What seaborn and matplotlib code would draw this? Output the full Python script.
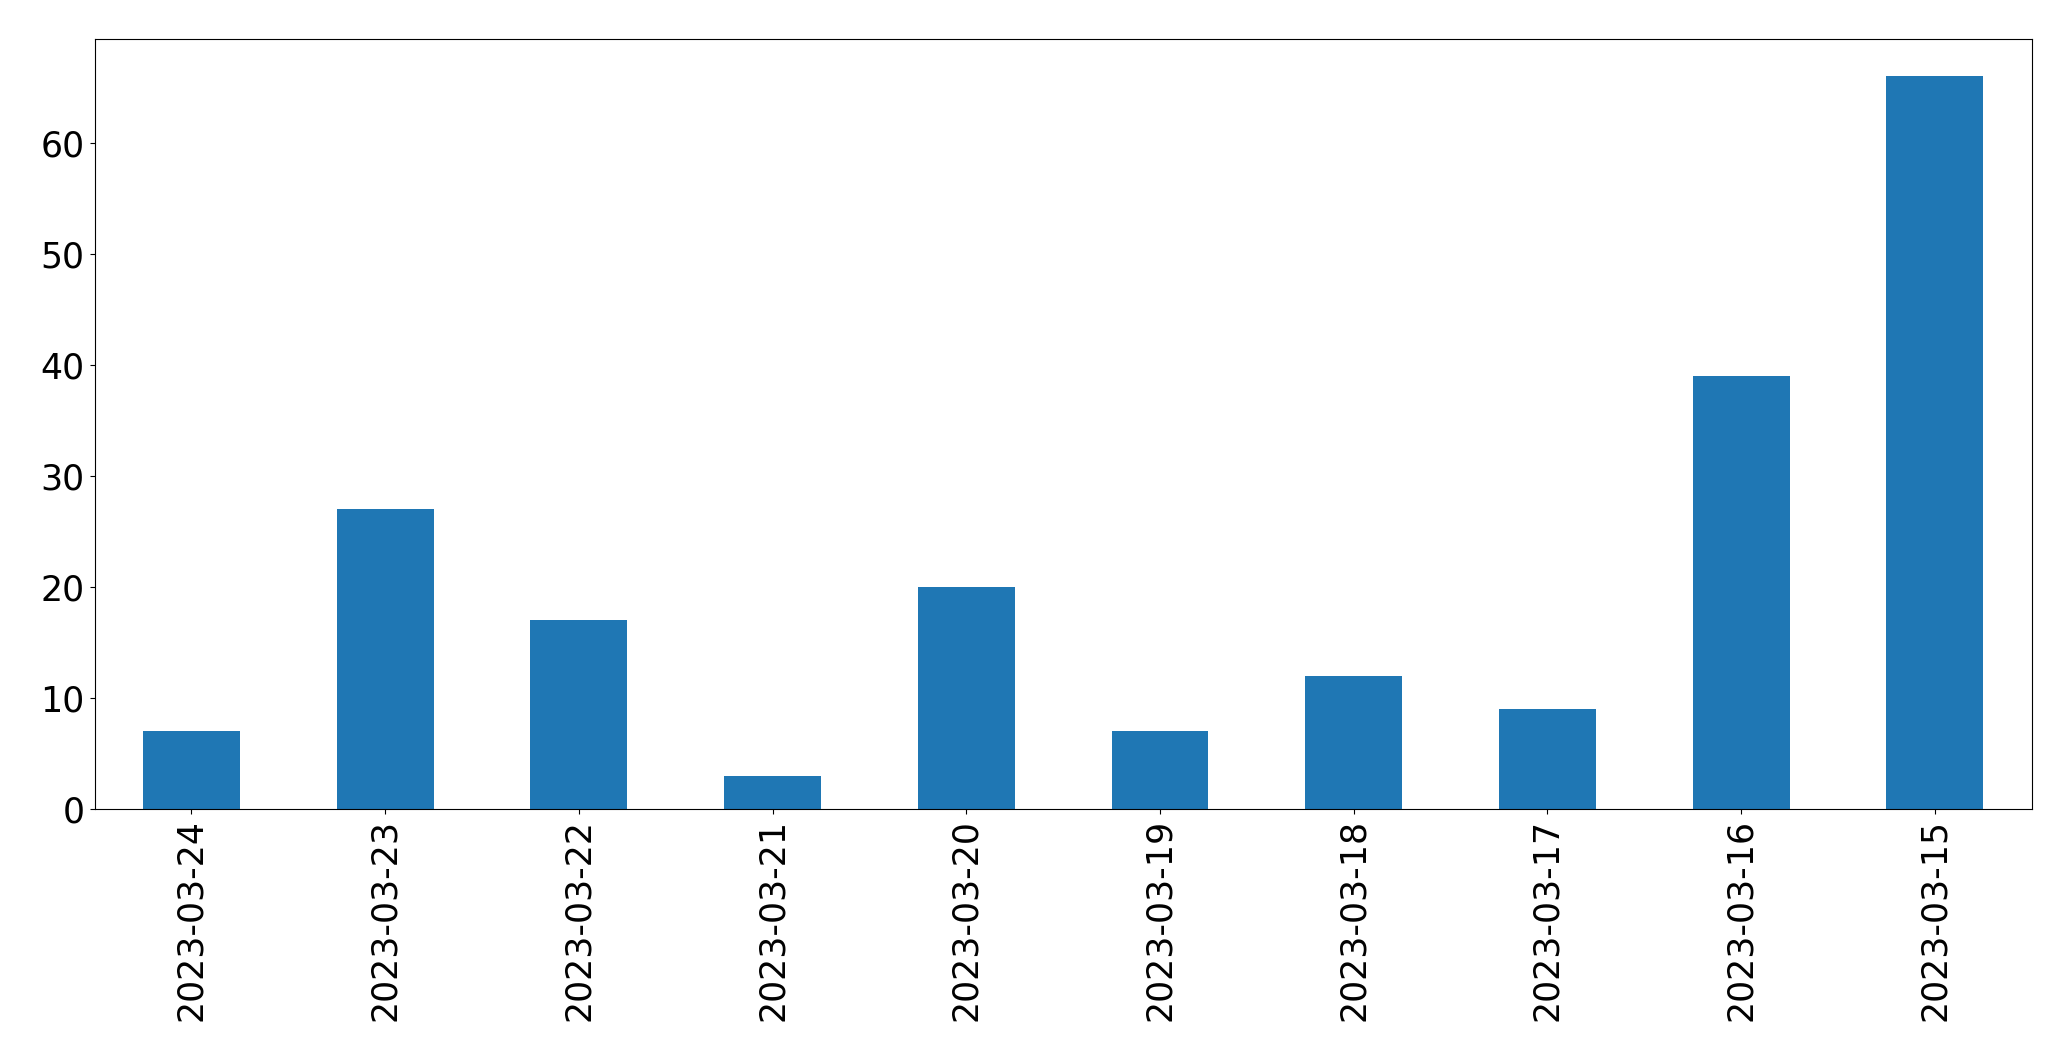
import matplotlib
matplotlib.use("Agg")
import matplotlib.pyplot as plt
import seaborn as sns
import pandas as pd

dates = ["2023-03-24", "2023-03-23", "2023-03-22", "2023-03-21", "2023-03-20",
         "2023-03-19", "2023-03-18", "2023-03-17", "2023-03-16", "2023-03-15"]
counts = [7, 27, 17, 3, 20, 7, 12, 9, 39, 66]

df = pd.DataFrame({"date": dates, "count": counts})

fig = plt.figure(figsize=(20.71, 10.61), dpi=100)
ax = fig.add_axes([94.5 / 2071, 1 - 809 / 1061, (2031.7 - 94.5) / 2071, (809 - 39.3) / 1061])
sns.barplot(data=df, x="date", y="count", order=dates, color="#1f77b4",
            saturation=1, width=0.5, ax=ax, linewidth=0)
ax.set_xlim(-0.5, len(dates) - 0.5)
ax.set_ylim(0, max(counts) * 1.05)
ax.set_xlabel("")
ax.set_ylabel("")
ax.tick_params(axis="both", labelsize=25)
ax.tick_params(axis="x", labelrotation=90)
fig.savefig("out.png", dpi=100)
